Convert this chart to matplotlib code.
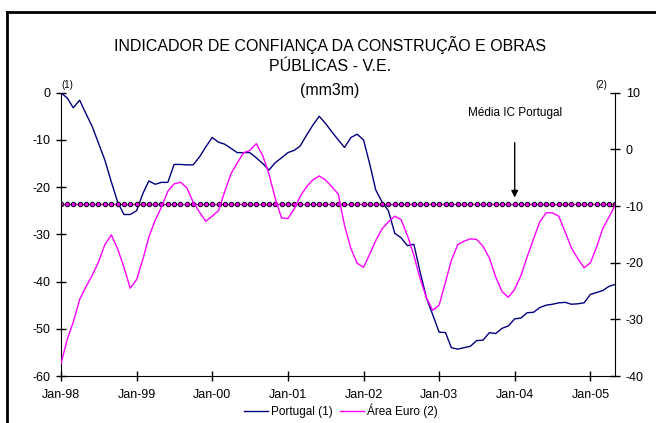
import matplotlib
matplotlib.use('Agg')
import matplotlib.pyplot as plt
import matplotlib.dates as mdates
from matplotlib.lines import Line2D
import pandas as pd

plt.rcParams['font.family'] = ['Liberation Sans', 'DejaVu Sans']
plt.rcParams['axes.unicode_minus'] = False

# meses de Jan-98 a Mai-05
datas = pd.date_range('1998-01-01', periods=89, freq='MS')

# Portugal (1) - eixo da esquerda
portugal = [0.0, -1.2, -3.2, -1.6, -4.4, -7.2, -10.7, -14.3, -18.9, -23.1,
            -25.8, -25.8, -25.0, -21.3, -18.7, -19.4, -19.0, -19.0, -15.2, -15.2,
            -15.3, -15.3, -13.6, -11.5, -9.5, -10.5, -10.9, -11.8, -12.7, -12.7,
            -12.7, -13.8, -15.0, -16.4, -14.8, -13.8, -12.7, -12.2, -11.3, -9.0,
            -6.9, -5.0, -6.5, -8.3, -10.0, -11.6, -9.5, -8.8, -10.0, -15.3,
            -20.6, -23.2, -25.0, -29.8, -30.7, -32.4, -32.1, -37.9, -43.5, -47.0,
            -50.7, -50.8, -54.0, -54.3, -54.0, -53.7, -52.5, -52.4, -50.8, -51.0,
            -49.9, -49.4, -47.9, -47.7, -46.6, -46.5, -45.5, -45.0, -44.8, -44.5,
            -44.4, -44.8, -44.7, -44.5, -42.7, -42.3, -41.9, -41.0, -40.6]

# Área Euro (2) - eixo da direita
area_euro = [-37.8, -33.4, -30.5, -26.5, -24.3, -22.2, -19.9, -16.8, -15.1, -17.5,
             -20.8, -24.5, -23.0, -19.3, -15.5, -12.5, -10.2, -7.4, -6.1, -5.8,
             -6.8, -9.3, -11.1, -12.7, -11.8, -10.8, -7.5, -4.3, -2.4, -0.6,
             -0.2, 1.0, -1.1, -4.3, -8.7, -12.1, -12.2, -10.5, -8.3, -6.6,
             -5.4, -4.7, -5.4, -6.6, -7.9, -13.4, -17.5, -20.1, -20.8, -18.4,
             -16.1, -14.0, -12.8, -11.8, -12.4, -15.2, -18.7, -22.8, -26.2, -28.4,
             -27.5, -23.4, -19.6, -16.8, -16.2, -15.8, -15.9, -17.1, -19.2, -22.5,
             -25.1, -26.1, -24.7, -22.2, -19.0, -15.8, -12.8, -11.2, -11.2, -11.8,
             -14.6, -17.4, -19.3, -20.9, -20.0, -17.1, -14.0, -11.9, -9.8]

media_pt = -23.6

fig = plt.figure(figsize=(6.56, 4.23), dpi=100)
ax = fig.add_axes([0.093, 0.111, 0.845, 0.67])
ax2 = ax.twinx()

l1, = ax.plot(datas, portugal, color='#000080', lw=1.0, label='Portugal (1)')
ax.plot(datas, [media_pt] * len(datas), color='#cc00cc', lw=1.0,
        marker='o', ms=3.2, mfc='#ff00ff', mec='#000000', mew=0.7)
l2, = ax2.plot(datas, area_euro, color='#ff00ff', lw=1.0, label='Área Euro (2)')

ax.set_ylim(-60, 0)
ax2.set_ylim(-40, 10)
ax.set_yticks(range(-60, 1, 10))
ax2.set_yticks(range(-40, 11, 10))
ax.set_xlim(datas[0], datas[-1])
ax.xaxis.set_major_locator(mdates.MonthLocator(bymonth=1))
ax.xaxis.set_major_formatter(mdates.DateFormatter('%b-%y'))

for a in (ax, ax2):
    a.spines['top'].set_visible(False)
    a.tick_params(direction='inout', length=7, width=1, labelsize=9, pad=4)
ax.spines['right'].set_visible(False)
ax2.spines['left'].set_visible(False)
ax2.spines['bottom'].set_visible(False)
ax.tick_params(axis='x', pad=6)

ax.text(0.0, 1.01, '(1)', transform=ax.transAxes, fontsize=7, ha='left', va='bottom')
ax2.text(0.985, 1.01, '(2)', transform=ax2.transAxes, fontsize=7, ha='right', va='bottom')

ax.annotate('', xy=(datas[72], -22.8), xytext=(datas[72], -10.0),
            arrowprops=dict(arrowstyle='-|>', color='black', lw=1.0, mutation_scale=10))
ax.text(datas[72], -4.4, 'Média IC Portugal', fontsize=8.5, ha='center', va='center')

fig.text(0.503, 0.894, 'INDICADOR DE CONFIANÇA DA CONSTRUÇÃO E OBRAS',
         ha='center', va='center', fontsize=11.5)
fig.text(0.503, 0.842, 'PÚBLICAS - V.E.', ha='center', va='center', fontsize=11.5)
fig.text(0.503, 0.785, '(mm3m)', ha='center', va='center', fontsize=11.5)

fig.legend(handles=[l1, l2], loc='center', bbox_to_anchor=(0.52, 0.028), ncol=2,
           frameon=False, fontsize=8.5, handlelength=2.0, columnspacing=0.6,
           handletextpad=0.3, borderaxespad=0)

# moldura
fig.add_artist(Line2D([0.011, 0.011], [0.0, 0.972], color='black', lw=2))
fig.add_artist(Line2D([0.011, 1.0], [0.972, 0.972], color='black', lw=2))

fig.savefig('out.png', dpi=100)
